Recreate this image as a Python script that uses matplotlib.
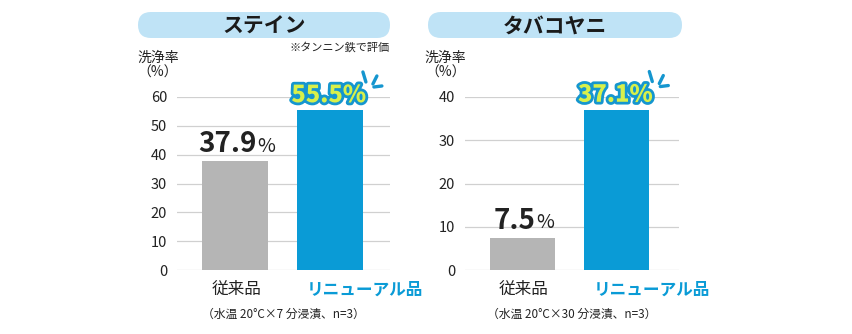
import matplotlib
matplotlib.use('Agg')
import matplotlib.pyplot as plt
import matplotlib.patheffects as pe
from matplotlib.patches import FancyBboxPatch

plt.rcParams['font.family'] = ['Noto Sans CJK JP', 'DejaVu Sans']

categories = ['従来品', 'リニューアル品']
titles = ['ステイン', 'タバコヤニ']
stain = [37.9, 55.5]
tobacco = [7.5, 37.1]
stain_ticks = [0, 10, 20, 30, 40, 50, 60]
tobacco_ticks = [0, 10, 20, 30, 40]
footnotes = ['（水温 20°C×7 分浸漬、n=3）', '（水温 20°C×30 分浸漬、n=3）']
ylabel = '洗浄率\n（%）'
note = '※タンニン鉄で評価'

GREY = '#b5b5b5'
BLUE = '#0a9bd6'
PILL = '#bfe3f6'
W, H = 852, 334

fig = plt.figure(figsize=(W / 100, H / 100), dpi=100)

# overlay in pixel units for the title pills
over = fig.add_axes([0, 0, 1, 1])
over.set_xlim(0, W)
over.set_ylim(H, 0)
over.axis('off')


def px_axes(x0, x1, ytop, ybot):
    return fig.add_axes([x0 / W, 1 - ybot / H, (x1 - x0) / W, (ybot - ytop) / H])


def panel(ax, vals, ticks, xlim, title, foot, pill):
    ax.set_xlim(*xlim)
    ax.set_ylim(0, ticks[-1])
    for t in ticks:
        ax.axhline(t, color='#d0d0d0', lw=0.9, zorder=0)
    ax.bar([0, 1], vals, width=0.69, color=[GREY, BLUE], zorder=2)
    for s in ax.spines.values():
        s.set_visible(False)
    ax.set_yticks(ticks)
    ax.set_yticklabels([str(t) for t in ticks], fontsize=10.5, color='#222222')
    ax.tick_params(axis='y', length=0, pad=7)
    ax.set_xticks([])
    # category labels (the renewal one sits a little to the right in the original)
    ax.annotate(categories[0], (0, 0), xycoords=('data', 'axes fraction'),
                xytext=(1, -8), textcoords='offset points', ha='center', va='top',
                fontsize=12, color='#222222')
    ax.annotate(categories[1], (1, 0), xycoords=('data', 'axes fraction'),
                xytext=(25, -8), textcoords='offset points', ha='center', va='top',
                fontsize=12, fontweight='bold', color=BLUE)
    ax.text(0.5, -0.255, foot, transform=ax.transAxes, ha='center', va='center',
            fontsize=8.5, color='#222222')
    ax.text(-0.09, 1.185, ylabel, transform=ax.transAxes, ha='center', va='center',
            fontsize=10, color='#222222', linespacing=1.05)

    # old product value label: number + smaller %
    num = ax.annotate(f'{vals[0]:.1f}', (0, vals[0]), xytext=(0, 2), textcoords='offset points',
                      ha='right', va='bottom', fontsize=20, fontweight='bold', color='#222222')
    pct = ax.annotate('%', (0, vals[0]), xytext=(0, 3), textcoords='offset points',
                      ha='left', va='bottom', fontsize=14, color='#222222')
    fig.canvas.draw()
    r = fig.canvas.get_renderer()
    wn = num.get_window_extent(r).width * 72 / fig.dpi
    wp = pct.get_window_extent(r).width * 72 / fig.dpi
    shift = (wn - wp) / 2 + 1
    num.set_position((shift, 2))
    pct.set_position((shift + 0.5, 3))

    # renewal product value label
    t = ax.annotate(f'{vals[1]:.1f}%', (1, vals[1]), xytext=(-1, 2), textcoords='offset points',
                    ha='center', va='bottom', fontsize=17, fontweight='black', color='#d8f04a')
    t.set_path_effects([pe.Stroke(linewidth=4, foreground='#1596cf'), pe.Normal()])

    x0, x1, y0, y1 = pill
    over.add_patch(FancyBboxPatch((x0, y0), x1 - x0, y1 - y0,
                                  boxstyle='round,pad=0,rounding_size=13',
                                  fc=PILL, ec='none'))
    over.text((x0 + x1) / 2, (y0 + y1) / 2 + 1, title, ha='center', va='center',
              fontsize=15, fontweight='bold', color='#1a1a1a')


def sparkle(ax, v):
    # three short dashes above the top-right corner of the blue bar (pixel offsets)
    bx, by = ax.transData.transform((1.345, v))
    for (a, b, c, d) in [(0, 38, 3, 28), (14, 34, 10, 26), (11, 23, 19, 24)]:
        ax.plot([(bx + a) / 100, (bx + c) / 100], [(by + b) / 100, (by + d) / 100],
                transform=fig.dpi_scale_trans, color='#1596cf', lw=2.4,
                solid_capstyle='round', clip_on=False)


ax1 = px_axes(177, 390, 97, 270)
panel(ax1, stain, stain_ticks, (-0.61, 1.63), titles[0], footnotes[0], (138, 390, 12, 38))
ax1.text(1.0, 1.29, note, transform=ax1.transAxes, ha='right', va='center',
         fontsize=8, color='#222222')

ax2 = px_axes(465, 679, 97, 270)
panel(ax2, tobacco, tobacco_ticks, (-0.61, 1.66), titles[1], footnotes[1], (428, 682, 12, 38))

fig.canvas.draw()
sparkle(ax1, stain[1])
sparkle(ax2, tobacco[1])

fig.savefig('out.png', dpi=100)
